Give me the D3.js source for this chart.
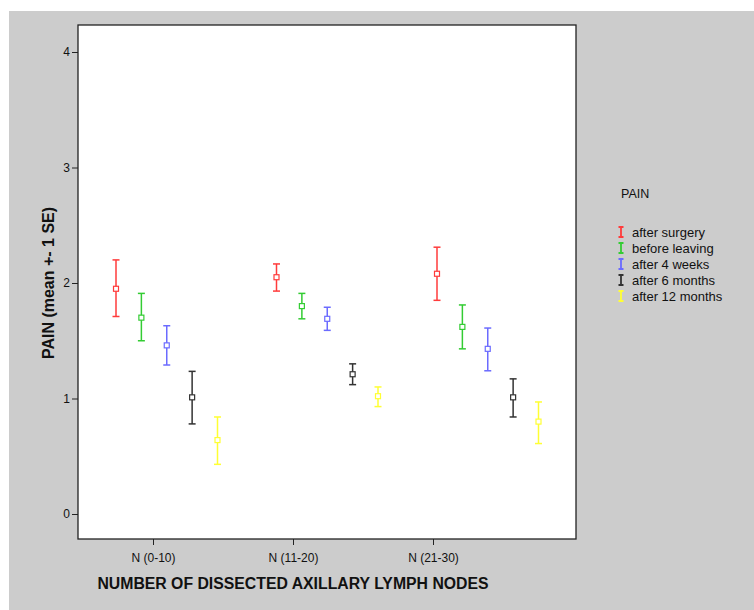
<!DOCTYPE html>
<html>
<head>
<meta charset="utf-8">
<script src="https://cdn.jsdelivr.net/npm/d3@7"></script>
<style>
  body { margin: 0; background: #fff; }
  text { font-family: "Liberation Sans", Arial, sans-serif; fill: #111; }
</style>
</head>
<body>
<svg id="chart" width="754" height="610"></svg>
<script>
// categories and series
const groups = ['N (0-10)', 'N (11-20)', 'N (21-30)'];
const series = ['after surgery', 'before leaving', 'after 4 weeks', 'after 6 months', 'after 12 months'];
const colors = ['#ff3b3b', '#33cc33', '#6b6bff', '#333333', '#ffff33'];
const yTicks = [0, 1, 2, 3, 4];

// mean, and mean +- 1 SE, one row per series, one value per group
const means = [
  [1.95, 2.05, 2.08],
  [1.70, 1.80, 1.62],
  [1.46, 1.69, 1.43],
  [1.01, 1.21, 1.01],
  [0.64, 1.02, 0.80]
];
const lows = [
  [1.71, 1.93, 1.85],
  [1.50, 1.69, 1.43],
  [1.29, 1.59, 1.24],
  [0.78, 1.12, 0.84],
  [0.43, 0.93, 0.61]
];
const highs = [
  [2.20, 2.165, 2.31],
  [1.91, 1.91, 1.81],
  [1.63, 1.79, 1.61],
  [1.235, 1.30, 1.17],
  [0.84, 1.10, 0.97]
];

const svg = d3.select('#chart');
const frame = { left: 78, right: 576, top: 25, bottom: 539 };

svg.append('rect')
  .attr('x', 9).attr('y', 11)
  .attr('width', 754 - 9).attr('height', 610 - 11)
  .attr('fill', '#cccccc');

svg.append('rect')
  .attr('x', frame.left).attr('y', frame.top)
  .attr('width', frame.right - frame.left)
  .attr('height', frame.bottom - frame.top)
  .attr('fill', '#fff')
  .attr('stroke', '#222')
  .attr('stroke-width', 1.3);

const y = d3.scaleLinear().domain([0, 4]).range([514, 52]);

// ticks sit at one spacing, clusters at another (as SPSS drew it)
const xTick = d3.scalePoint().domain(groups).range([153, 433]);
const xCluster = d3.scalePoint().domain(groups).range([116, 437]);
const xOffset = d3.scalePoint().domain(series).range([0, 101.5]);

// y axis
const yAxis = d3.axisLeft(y).tickValues(yTicks).tickFormat(d3.format('d')).tickSize(6).tickPadding(2);
const gy = svg.append('g')
  .attr('transform', `translate(${frame.left},0)`)
  .call(yAxis);
gy.select('.domain').remove();
gy.selectAll('line').attr('stroke', '#222');
gy.selectAll('text').style('font-size', '12px').attr('fill', '#222');

// x axis
const xAxis = d3.axisBottom(xTick).tickSize(6).tickPadding(8);
const gx = svg.append('g')
  .attr('transform', `translate(0,${frame.bottom})`)
  .call(xAxis);
gx.select('.domain').remove();
gx.selectAll('line').attr('stroke', '#222');
gx.selectAll('text').style('font-size', '12px').attr('fill', '#222');

// axis titles
svg.append('text')
  .attr('x', 293).attr('y', 589)
  .attr('text-anchor', 'middle')
  .style('font-size', '15.8px').style('font-weight', 'bold')
  .text('NUMBER OF DISSECTED AXILLARY LYMPH NODES');

svg.append('text')
  .attr('transform', 'translate(54,283) rotate(-90)')
  .attr('text-anchor', 'middle')
  .style('font-size', '16px').style('font-weight', 'bold')
  .text('PAIN (mean +- 1 SE)');

// error bars
const rows = [];
series.forEach((s, si) => {
  groups.forEach((g, gi) => {
    rows.push({ s, g, color: colors[si], mean: means[si][gi], lo: lows[si][gi], hi: highs[si][gi] });
  });
});

const bars = svg.append('g').selectAll('g')
  .data(rows)
  .join('g')
  .attr('transform', d => `translate(${xCluster(d.g) + xOffset(d.s)},0)`)
  .attr('stroke', d => d.color)
  .attr('stroke-width', 1.5)
  .attr('fill', 'none');

bars.append('line')
  .attr('y1', d => y(d.hi)).attr('y2', d => y(d.lo));
bars.append('line')
  .attr('x1', -3.5).attr('x2', 3.5)
  .attr('y1', d => y(d.hi)).attr('y2', d => y(d.hi));
bars.append('line')
  .attr('x1', -3.5).attr('x2', 3.5)
  .attr('y1', d => y(d.lo)).attr('y2', d => y(d.lo));
bars.append('rect')
  .attr('x', -2.5).attr('width', 5)
  .attr('y', d => y(d.mean) - 2.5).attr('height', 5)
  .attr('fill', '#fff')
  .attr('stroke-width', 1.2);

// legend
const legend = svg.append('g');
legend.append('text')
  .attr('x', 621).attr('y', 198)
  .style('font-size', '12.5px')
  .text('PAIN');

const items = legend.selectAll('g.item')
  .data(series)
  .join('g')
  .attr('class', 'item')
  .attr('transform', (d, i) => `translate(621,${232 + i * 16})`);

items.append('path')
  .attr('d', 'M-2.5,-5H2.5M0,-5V5M-2.5,5H2.5')
  .attr('stroke', (d, i) => colors[i])
  .attr('stroke-width', 1.8)
  .attr('fill', 'none');

items.append('text')
  .attr('x', 11).attr('y', 4.5)
  .style('font-size', '13px')
  .text(d => d);
</script>
</body>
</html>
